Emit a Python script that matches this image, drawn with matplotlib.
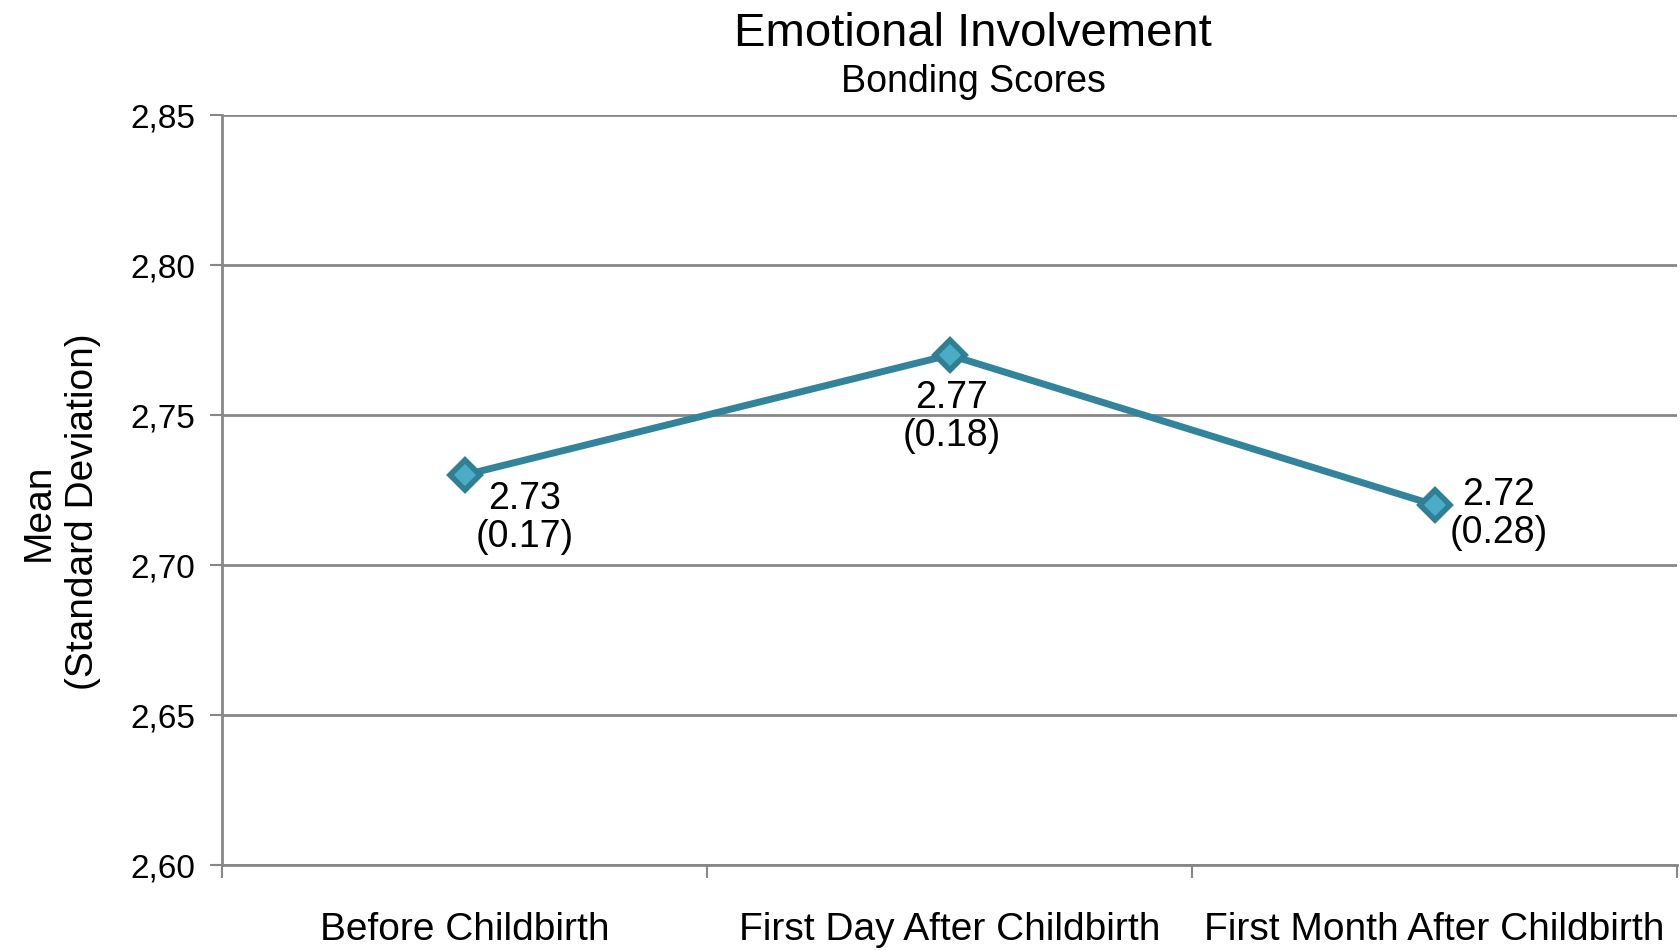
import matplotlib
matplotlib.use("Agg")
import matplotlib.pyplot as plt
from matplotlib.ticker import FixedLocator, NullFormatter, FuncFormatter

plt.rcParams['font.family'] = ['Liberation Sans', 'DejaVu Sans']

categories = ["Before Childbirth", "First Day After Childbirth", "First Month After Childbirth"]
means = [2.73, 2.77, 2.72]
sds = [0.17, 0.18, 0.28]
yticks = [2.60, 2.65, 2.70, 2.75, 2.80, 2.85]
label_offsets = [(60, -43), (2, -62), (64, -9)]

fig = plt.figure(figsize=(16.8, 9.5), dpi=100)
ax = fig.add_axes([222/1680, 85/950, (1677-222)/1680, 750/950])

grid_c = "#878787"
xs = list(range(len(categories)))
ax.plot(xs, means, color="#31849B", lw=5, marker="D", markersize=15,
        markerfacecolor="#4BACC6", markeredgecolor="#2F7F95", markeredgewidth=4,
        zorder=5, solid_capstyle="round")

for x, m, s, off in zip(xs, means, sds, label_offsets):
    ax.annotate(f"{m:.2f}\n({s:.2f})", (x, m), xytext=off, textcoords="offset pixels",
                ha="center", va="center", fontsize=27, linespacing=1.1, zorder=6)

ax.set_xlim(-0.5, len(categories) - 0.5)
ax.set_ylim(yticks[0], yticks[-1])
ax.set_yticks(yticks)
ax.yaxis.set_major_formatter(FuncFormatter(lambda v, p: f"{v:.2f}".replace(".", ",")))
ax.yaxis.grid(True, color=grid_c, lw=2)
ax.set_axisbelow(True)

ax.set_xticks(xs)
ax.set_xticklabels(categories, fontsize=28)
ax.tick_params(axis="x", which="major", length=0, pad=34)
ax.xaxis.set_minor_locator(FixedLocator([i - 0.5 for i in range(len(categories) + 1)]))
ax.xaxis.set_minor_formatter(NullFormatter())
ax.tick_params(axis="x", which="minor", length=9, width=1.5, color=grid_c, direction="out")
ax.tick_params(axis="y", length=9, width=1.5, color=grid_c, labelsize=24, pad=10)

for sp in ["top", "right"]:
    ax.spines[sp].set_visible(False)
ax.spines["left"].set_color(grid_c)
ax.spines["left"].set_linewidth(2)
ax.spines["bottom"].set_color(grid_c)
ax.spines["bottom"].set_linewidth(2)

fig.text(973/1680, 1 - 34/950, "Emotional Involvement", ha="center", va="center", fontsize=34)
fig.text(973/1680, 1 - 82/950, "Bonding Scores", ha="center", va="center", fontsize=27)
fig.text(61/1680, 1 - 512/950, "Mean\n(Standard Deviation)", ha="center", va="center",
         rotation=90, fontsize=28, linespacing=1.3)

fig.savefig("out.png", dpi=100, facecolor="white")
